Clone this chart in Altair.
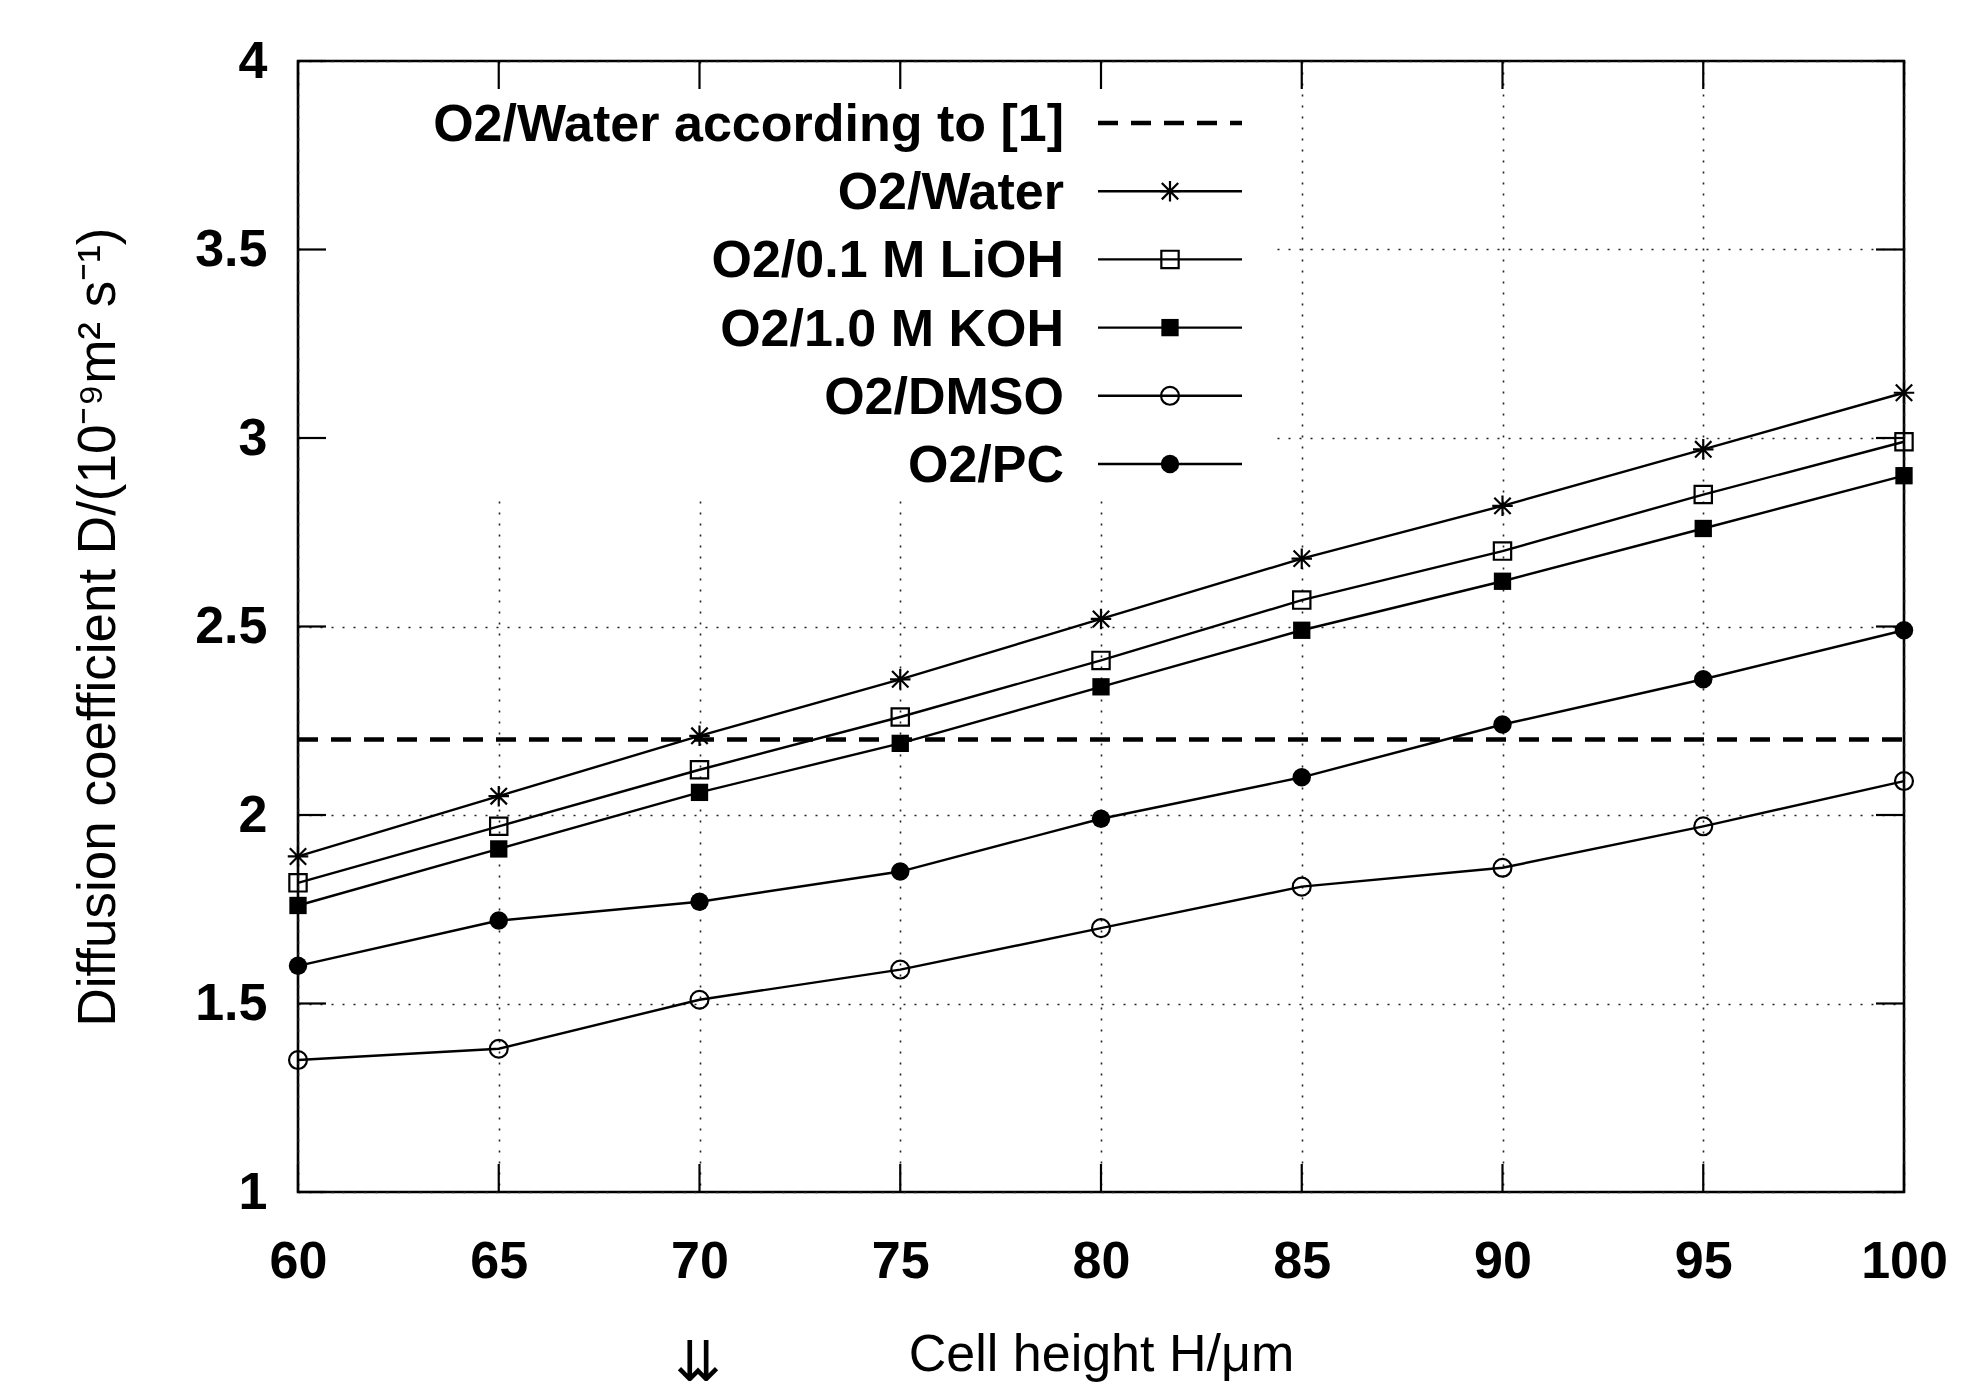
import altair as alt
import pandas as pd

# ---- data ----
heights = [60, 65, 70, 75, 80, 85, 90, 95, 100]
water = [1.89, 2.05, 2.21, 2.36, 2.52, 2.68, 2.82, 2.97, 3.12]
lioh = [1.82, 1.97, 2.12, 2.26, 2.41, 2.57, 2.70, 2.85, 2.99]
koh = [1.76, 1.91, 2.06, 2.19, 2.34, 2.49, 2.62, 2.76, 2.90]
dmso = [1.35, 1.38, 1.51, 1.59, 1.70, 1.81, 1.86, 1.97, 2.09]
pc = [1.60, 1.72, 1.77, 1.85, 1.99, 2.10, 2.24, 2.36, 2.49]
ref_value = 2.2
ref_label = "O2/Water according to [1]"
series_names = ["O2/Water", "O2/0.1 M LiOH", "O2/1.0 M KOH", "O2/DMSO", "O2/PC"]
series_values = [water, lioh, koh, dmso, pc]
x_ticks = [60, 65, 70, 75, 80, 85, 90, 95, 100]
y_ticks = [1, 1.5, 2, 2.5, 3, 3.5, 4]

# ---- layout / style ----
W, H = 1606, 1131
TICK = 28
STAR = "M-1,0L1,0M0,-1L0,1M-0.8,-0.8L0.8,0.8M-0.8,0.8L0.8,-0.8"
shape_of = {"O2/Water": STAR, "O2/0.1 M LiOH": "square", "O2/1.0 M KOH": "square",
            "O2/DMSO": "circle", "O2/PC": "circle"}
filled_of = {"O2/Water": False, "O2/0.1 M LiOH": False, "O2/1.0 M KOH": True,
             "O2/DMSO": False, "O2/PC": True}
size_of = {"O2/Water": 420, "O2/0.1 M LiOH": 300, "O2/1.0 M KOH": 300,
           "O2/DMSO": 320, "O2/PC": 340}
DASH = [20, 13]

rows = []
for name, vals in zip(series_names, series_values):
    for h, v in zip(heights, vals):
        rows.append({"series": name, "H": h, "D": v})
df = pd.DataFrame(rows)
ref_df = pd.DataFrame({"H": [heights[0], heights[-1]], "D": [ref_value, ref_value]})

xs = alt.Scale(domain=[60, 100], nice=False, zero=False)
ys = alt.Scale(domain=[1, 4], nice=False, zero=False)
BOLD = "Liberation Sans"

axis_x = alt.Axis(values=x_ticks, grid=True, ticks=False, tickSize=0, domain=False,
                  labelFont=BOLD, labelFontWeight="bold", labelFontSize=52, labelColor="black",
                  labelPadding=44, labelFlush=False, labelOverlap=False,
                  title="Cell height H/μm", titleFont=BOLD, titleFontWeight="normal",
                  titleFontSize=52, titleColor="black", titleX=W / 2, titleY=178,
                  titleBaseline="alphabetic", titleAlign="center",
                  gridDash=[2, 9], gridColor="#222222", gridWidth=1.6)
axis_y = alt.Axis(values=y_ticks, grid=True, ticks=False, tickSize=0, domain=False,
                  format="~g", labelFont=BOLD, labelFontWeight="bold", labelFontSize=52,
                  labelColor="black", labelPadding=31, labelFlush=False, labelOverlap=False,
                  title="Diffusion coefficient D/(10⁻⁹m² s⁻¹)", titleFont=BOLD,
                  titleFontWeight="normal", titleFontSize=53, titleColor="black",
                  titleX=-184, titleY=H / 2, titleAngle=270, titleBaseline="alphabetic",
                  titleAlign="center", gridDash=[2, 9], gridColor="#222222", gridWidth=1.6)


def X(field):
    return alt.X(field, scale=xs, axis=axis_x)


def Y(field):
    return alt.Y(field, scale=ys, axis=axis_y)


lines = alt.Chart(df).mark_line(color="black", strokeWidth=2.4).encode(
    x=X("H:Q"), y=Y("D:Q"), detail="series:N")

one = pd.DataFrame({"a": [0]})
mask = alt.Chart(one).mark_rect(color="white").encode(
    x=alt.value(3), x2=alt.value(973), y=alt.value(3), y2=alt.value(439))

ref_line = alt.Chart(ref_df).mark_line(color="black", strokeWidth=4.5, strokeDash=DASH).encode(
    x=X("H:Q"), y=Y("D:Q"))

point_layers = []
for name in series_names:
    sub = df[df.series == name]
    point_layers.append(
        alt.Chart(sub).mark_point(shape=shape_of[name], filled=filled_of[name], size=size_of[name],
                                  color="black", strokeWidth=2.2, opacity=1).encode(
            x=X("H:Q"), y=Y("D:Q")))

xt = pd.DataFrame({"H": x_ticks})
yt = pd.DataFrame({"D": y_ticks})
tick_layers = [
    alt.Chart(xt).mark_rule(color="black", strokeWidth=2.2).encode(
        x=X("H:Q"), y=alt.value(H), y2=alt.value(H - TICK)),
    alt.Chart(xt).mark_rule(color="black", strokeWidth=2.2).encode(
        x=X("H:Q"), y=alt.value(0), y2=alt.value(TICK)),
    alt.Chart(yt).mark_rule(color="black", strokeWidth=2.2).encode(
        y=Y("D:Q"), x=alt.value(0), x2=alt.value(TICK)),
    alt.Chart(yt).mark_rule(color="black", strokeWidth=2.2).encode(
        y=Y("D:Q"), x=alt.value(W), x2=alt.value(W - TICK)),
]

# ---- key (gnuplot style: text left, sample right) ----
key_labels = [ref_label] + series_names
KEY_TOP, KEY_STEP = 62, 68.2
TEXT_X, S0, S1 = 766, 800, 944
legend_layers = []
for i, lab in enumerate(key_labels):
    ly = KEY_TOP + i * KEY_STEP
    ldf = pd.DataFrame({"label": [lab]})
    legend_layers.append(
        alt.Chart(ldf).mark_text(align="right", baseline="alphabetic", font=BOLD,
                                 fontWeight="bold", fontSize=52, color="black").encode(
            text="label:N", x=alt.value(TEXT_X), y=alt.value(ly + 18)))
    if i == 0:
        legend_layers.append(
            alt.Chart(ldf).mark_rule(color="black", strokeWidth=4.5, strokeDash=DASH).encode(
                x=alt.value(S0), x2=alt.value(S1), y=alt.value(ly)))
    else:
        legend_layers.append(
            alt.Chart(ldf).mark_rule(color="black", strokeWidth=2.4).encode(
                x=alt.value(S0), x2=alt.value(S1), y=alt.value(ly)))
        legend_layers.append(
            alt.Chart(ldf).mark_point(shape=shape_of[lab], filled=filled_of[lab], size=size_of[lab],
                                      color="black", strokeWidth=2.2, opacity=1).encode(
                x=alt.value((S0 + S1) / 2), y=alt.value(ly)))

arrow = alt.Chart(pd.DataFrame({"t": ["⇊"]})).mark_text(
    font="DejaVu Sans", fontSize=56, baseline="top", align="center", color="black").encode(
    text="t:N", x=alt.value(400), y=alt.value(1276))

chart = alt.layer(lines, mask, ref_line, *point_layers, *tick_layers, *legend_layers, arrow).properties(
    width=W, height=H,
    padding={"left": 290, "top": 53, "right": 50, "bottom": 190},
    autosize=alt.AutoSizeParams(type="none"),
    background="white",
).configure_view(stroke="black", strokeWidth=2.6)

chart.save("out.html", embed_options={"renderer": "svg", "actions": False})
